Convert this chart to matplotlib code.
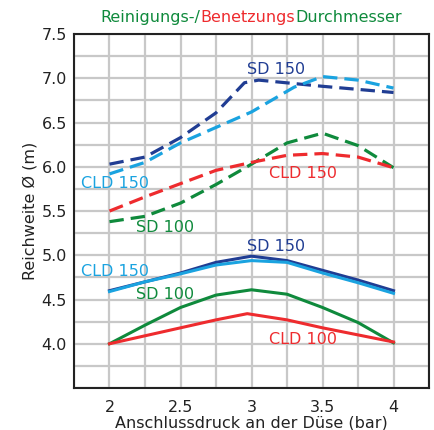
# Reichweite chart: cleaning / wetting diameter vs. nozzle pressure
import matplotlib
matplotlib.use("Agg")
import matplotlib.pyplot as plt
from matplotlib.ticker import MultipleLocator

# Colours
DARK_BLUE = "#203d93"
LIGHT_BLUE = "#1aa3e0"
GREEN = "#0f8a3c"
RED = "#ee2b2e"

# Dashed curves (Reinigungsdurchmesser)
sd150_dash_x = [2.0, 2.25, 2.5, 2.75, 2.95, 3.05, 3.5, 4.0]
sd150_dash_y = [6.03, 6.11, 6.33, 6.61, 6.95, 6.98, 6.91, 6.84]

cld150_dash_x = [2.0, 2.25, 2.5, 3.0, 3.3, 3.5, 3.75, 4.0]
cld150_dash_y = [5.92, 6.05, 6.27, 6.62, 6.90, 7.02, 6.98, 6.89]

sd100_dash_x = [2.0, 2.25, 2.5, 2.75, 3.0, 3.25, 3.5, 3.75, 4.0]
sd100_dash_y = [5.38, 5.44, 5.59, 5.80, 6.03, 6.27, 6.38, 6.24, 5.99]

cld150r_dash_x = [2.0, 2.25, 2.5, 2.75, 3.0, 3.25, 3.5, 3.75, 4.0]
cld150r_dash_y = [5.50, 5.66, 5.81, 5.96, 6.05, 6.13, 6.15, 6.11, 5.99]

# Solid curves (Benetzungsdurchmesser)
sd150_x = [2.0, 2.25, 2.5, 2.75, 3.0, 3.25, 3.5, 3.75, 4.0]
sd150_y = [4.60, 4.70, 4.80, 4.92, 4.99, 4.94, 4.83, 4.72, 4.60]

cld150_x = [2.0, 2.25, 2.5, 2.75, 3.0, 3.25, 3.5, 3.75, 4.0]
cld150_y = [4.59, 4.70, 4.79, 4.89, 4.94, 4.92, 4.80, 4.69, 4.57]

sd100_x = [2.0, 2.25, 2.5, 2.75, 3.0, 3.25, 3.5, 3.75, 4.0]
sd100_y = [4.00, 4.21, 4.41, 4.55, 4.61, 4.56, 4.41, 4.24, 4.01]

cld100_x = [2.0, 2.25, 2.5, 2.75, 2.97, 3.25, 3.5, 3.75, 4.0]
cld100_y = [4.00, 4.09, 4.18, 4.27, 4.34, 4.27, 4.18, 4.10, 4.02]

# Curve labels: (text, x, y, colour)
labels = [
    ("SD 150", 3.17, 7.10, DARK_BLUE),
    ("CLD 150", 2.04, 5.81, LIGHT_BLUE),
    ("CLD 150", 3.36, 5.93, RED),
    ("SD 100", 2.39, 5.31, GREEN),
    ("SD 150", 3.17, 5.10, DARK_BLUE),
    ("CLD 150", 2.04, 4.82, LIGHT_BLUE),
    ("SD 100", 2.39, 4.56, GREEN),
    ("CLD 100", 3.36, 4.05, RED),
]

x_ticks = [2, 2.5, 3, 3.5, 4]
x_tick_labels = ["2", "2.5", "3", "3.5", "4"]
y_ticks = [4.0, 4.5, 5.0, 5.5, 6.0, 6.5, 7.0, 7.5]

plt.rcParams["font.family"] = "DejaVu Sans"

fig = plt.figure(figsize=(4.34, 4.30), dpi=100)
ax = fig.add_axes([0.1705, 0.0977, 0.818, 0.823])

# Grid
ax.set_xlim(1.75, 4.25)
ax.set_ylim(3.5, 7.5)
ax.xaxis.set_minor_locator(MultipleLocator(0.25))
ax.yaxis.set_minor_locator(MultipleLocator(0.25))
ax.grid(True, which="both", color="#c8c8c8", linewidth=1.6)
ax.set_axisbelow(True)

# Dashed lines
dash = (0, (4.5, 2.2))
ax.plot(sd150_dash_x, sd150_dash_y, color=DARK_BLUE, lw=2.3, linestyle=dash)
ax.plot(cld150_dash_x, cld150_dash_y, color=LIGHT_BLUE, lw=2.3, linestyle=dash)
ax.plot(sd100_dash_x, sd100_dash_y, color=GREEN, lw=2.3, linestyle=dash)
ax.plot(cld150r_dash_x, cld150r_dash_y, color=RED, lw=2.3, linestyle=dash)

# Solid lines
ax.plot(sd150_x, sd150_y, color=DARK_BLUE, lw=2.2)
ax.plot(cld150_x, cld150_y, color=LIGHT_BLUE, lw=2.2)
ax.plot(sd100_x, sd100_y, color=GREEN, lw=2.2)
ax.plot(cld100_x, cld100_y, color=RED, lw=2.2)

for text, x, y, c in labels:
    ax.text(x, y, text, color=c, fontsize=11.5, ha="center", va="center")

# Ticks and labels
ax.set_xticks(x_ticks)
ax.set_xticklabels(x_tick_labels)
ax.set_yticks(y_ticks)
ax.set_yticklabels([f"{v:.1f}" for v in y_ticks])
ax.tick_params(axis="x", which="both", length=0, labelsize=11.5, colors="#222222", pad=9)
ax.tick_params(axis="y", which="both", length=0, labelsize=11.5, colors="#222222", pad=5)
ax.set_xlabel("Anschlussdruck an der Düse (bar)", fontsize=11.5, color="#222222", labelpad=0)
ax.set_ylabel("Reichweite Ø (m)", fontsize=11.5, color="#222222", labelpad=3)

for s in ax.spines.values():
    s.set_linewidth(1.5)
    s.set_color("#222222")

# Multi-coloured title
parts = [("Reinigungs-/", GREEN), ("Benetzungs", RED), ("Durchmesser", GREEN)]
fig.canvas.draw()
renderer = fig.canvas.get_renderer()
texts = []
x0 = 0.0
for s, c in parts:
    t = fig.text(x0, 0.96, s, color=c, fontsize=11.5, va="center", ha="left")
    bb = t.get_window_extent(renderer)
    x0 += bb.width / fig.bbox.width
    texts.append(t)
# centre the whole title over x = 251 px
shift = 251 / 434 - x0 / 2
for t in texts:
    t.set_x(t.get_position()[0] + shift)

fig.savefig("out.png", dpi=100)
